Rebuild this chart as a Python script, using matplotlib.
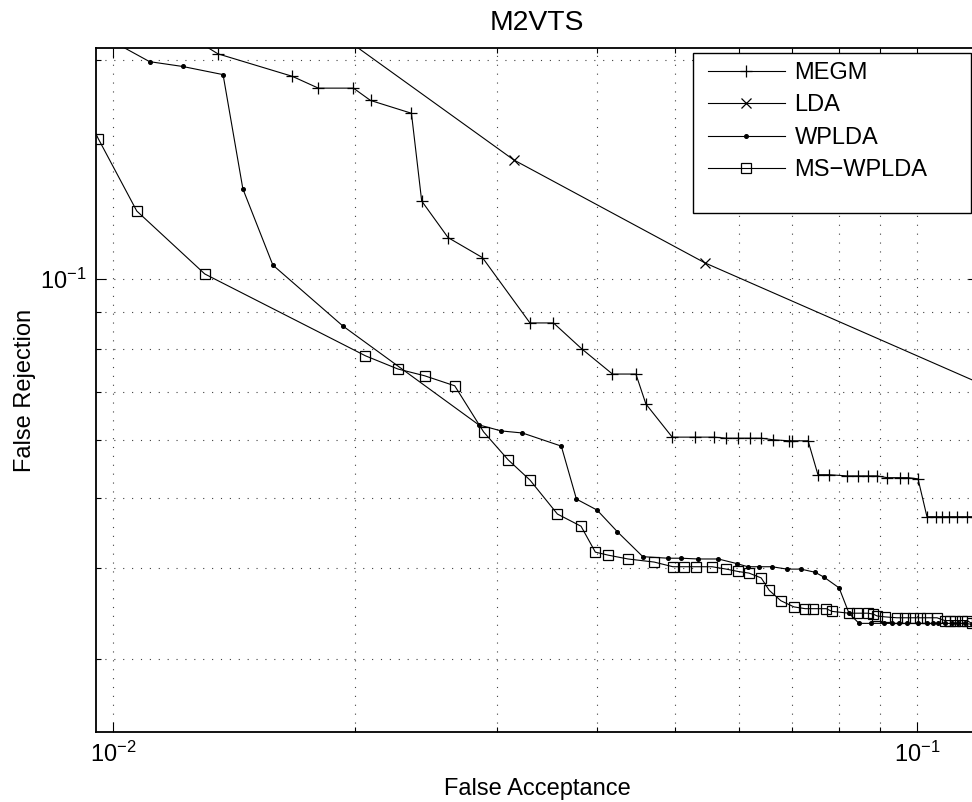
import matplotlib

matplotlib.use("Agg")
import matplotlib.pyplot as plt
from matplotlib.lines import Line2D
from matplotlib.patches import Rectangle
from matplotlib.ticker import LogLocator, NullFormatter

plt.rcParams.update({
    "font.family": ["Liberation Sans", "DejaVu Sans"],
    "font.size": 17,
    "mathtext.default": "regular",
})

# ROC points (false acceptance, false rejection)
megm_far = [0.0125, 0.0135, 0.0167, 0.0180, 0.0199, 0.0209, 0.0235, 0.0242,
            0.0261, 0.0288, 0.0330, 0.0353, 0.0383, 0.0418, 0.0447, 0.0460,
            0.0496, 0.0530, 0.0559, 0.0579, 0.0599, 0.0620, 0.0640, 0.0662,
            0.0693, 0.0699, 0.0732, 0.0753, 0.0777, 0.0818, 0.0845, 0.0869,
            0.0892, 0.0918, 0.0953, 0.0975, 0.1003, 0.1029, 0.1056, 0.1074,
            0.1096, 0.1121, 0.1154, 0.1185, 0.1215]
megm_frr = [0.215, 0.204, 0.190, 0.183, 0.183, 0.176, 0.169, 0.128,
            0.114, 0.107, 0.0870, 0.0870, 0.0801, 0.0740, 0.0740, 0.0673,
            0.0606, 0.0606, 0.0606, 0.0604, 0.0604, 0.0604, 0.0604, 0.0601,
            0.0599, 0.0599, 0.0599, 0.0538, 0.0538, 0.0536, 0.0536, 0.0536,
            0.0536, 0.0533, 0.0533, 0.0533, 0.0531, 0.0471, 0.0471, 0.0471,
            0.0471, 0.0471, 0.0471, 0.0471, 0.0471]

lda_far = [0.0171, 0.0315, 0.0545, 0.1268]
lda_frr = [0.237, 0.1458, 0.1052, 0.0699]

wplda_far = [0.00977, 0.0111, 0.0122, 0.0137, 0.0145, 0.0158, 0.0193, 0.0285,
             0.0304, 0.0323, 0.0361, 0.0377, 0.0400, 0.0424, 0.0456, 0.0490,
             0.0509, 0.0534, 0.0566, 0.0597, 0.0616, 0.0636, 0.0660, 0.0689,
             0.0717, 0.0747, 0.0766, 0.0800, 0.0823, 0.0847, 0.0877, 0.0910,
             0.0931, 0.0950, 0.0972, 0.1003, 0.1029, 0.1047, 0.1062, 0.1083,
             0.1105, 0.1124, 0.1147, 0.1170, 0.1215]
wplda_frr = [0.215, 0.199, 0.196, 0.191, 0.133, 0.1045, 0.0862, 0.0630,
             0.0618, 0.0614, 0.0589, 0.0498, 0.0481, 0.0449, 0.0415, 0.0413,
             0.0413, 0.0412, 0.0412, 0.0406, 0.0402, 0.0402, 0.0402, 0.0399,
             0.0399, 0.0395, 0.0389, 0.0376, 0.0347, 0.0336, 0.0336, 0.0336,
             0.0336, 0.0336, 0.0336, 0.0336, 0.0336, 0.0336, 0.0336, 0.0336,
             0.0336, 0.0336, 0.0336, 0.0335, 0.0335]

msw_far = [0.00923, 0.00958, 0.0107, 0.0130, 0.0206, 0.0226, 0.0244, 0.0266,
           0.0289, 0.0310, 0.0330, 0.0357, 0.0382, 0.0398, 0.0413, 0.0437,
           0.0471, 0.0497, 0.0513, 0.0531, 0.0556, 0.0579, 0.0599, 0.0618,
           0.0640, 0.0655, 0.0677, 0.0703, 0.0726, 0.0742, 0.0771, 0.0784,
           0.0823, 0.0842, 0.0869, 0.0882, 0.0892, 0.0912, 0.0944, 0.0966,
           0.0989, 0.1009, 0.1029, 0.1059, 0.1083, 0.1099, 0.1115, 0.1138,
           0.1154, 0.1170, 0.1215]
msw_frr = [0.170, 0.156, 0.124, 0.1016, 0.0784, 0.0752, 0.0736, 0.0713,
           0.0616, 0.0564, 0.0529, 0.0475, 0.0457, 0.0421, 0.0417, 0.0412,
           0.0408, 0.0402, 0.0402, 0.0402, 0.0402, 0.0399, 0.0396, 0.0394,
           0.0388, 0.0373, 0.0361, 0.0354, 0.0352, 0.0352, 0.0352, 0.0349,
           0.0347, 0.0347, 0.0347, 0.0346, 0.0344, 0.0343, 0.0342, 0.0342,
           0.0342, 0.0342, 0.0342, 0.0342, 0.0339, 0.0339, 0.0339, 0.0339,
           0.0339, 0.0336, 0.0336]

labels = ["MEGM", "LDA", "WPLDA", "MS\u2212WPLDA"]

fig = plt.figure(figsize=(9.72, 8.02), dpi=100)
# right edge of the axes sits just past the canvas, like the cropped original
ax = fig.add_axes([96 / 972, 70 / 802, 882 / 972, 684 / 802])

lw = 0.8
ax.plot(megm_far, megm_frr, color="k", lw=lw, marker="+", ms=9, mew=0.9)
ax.plot(lda_far, lda_frr, color="k", lw=lw, marker="x", ms=7, mew=0.9)
ax.plot(wplda_far, wplda_frr, color="k", lw=lw, marker="o", ms=2.6,
        mfc="k", mec="k")
ax.plot(msw_far, msw_frr, color="k", lw=lw, marker="s", ms=6.5,
        mfc="none", mec="k", mew=0.9)

ax.set_xscale("log")
ax.set_yscale("log")
ax.set_xlim(0.00952, 0.1191)
ax.set_ylim(0.02382, 0.2078)

for axis in (ax.xaxis, ax.yaxis):
    axis.set_major_locator(LogLocator(base=10))
    axis.set_minor_locator(LogLocator(base=10, subs=range(2, 10)))
    axis.set_minor_formatter(NullFormatter())

ax.grid(True, which="both", color="0.25", lw=0.8, ls=(0, (1, 7)))
ax.tick_params(which="both", direction="in", top=True, right=True, width=0.8)
ax.tick_params(which="major", length=7, pad=7)
ax.tick_params(which="minor", length=3.5)
for sp in ax.spines.values():
    sp.set_linewidth(1.3)

ax.set_title("M2VTS", pad=13)
ax.set_xlabel("False Acceptance", labelpad=8)
ax.set_ylabel("False Rejection", labelpad=3)

# legend box drawn as a plain rectangle so its width matches the original
bx0, bx1 = (693 - 96) / 882, (971 - 96) / 882
by0, by1 = (732 - 213) / 684, (732 - 53) / 684
ax.add_patch(Rectangle((bx0, by0), bx1 - bx0, by1 - by0, transform=ax.transAxes,
                       facecolor="white", edgecolor="k", lw=1.0, zorder=4))
handles = [
    Line2D([], [], color="k", lw=lw, marker="+", ms=9, mew=0.9),
    Line2D([], [], color="k", lw=lw, marker="x", ms=7, mew=0.9),
    Line2D([], [], color="k", lw=lw, marker="o", ms=2.6, mfc="k"),
    Line2D([], [], color="k", lw=lw, marker="s", ms=6.5, mfc="none", mew=0.9),
]
leg = ax.legend(handles, labels, loc="upper left", frameon=False,
                bbox_to_anchor=((708 - 96) / 882, (732 - 62) / 684),
                borderpad=0, borderaxespad=0, handlelength=3.26,
                handletextpad=0.4, labelspacing=0.44, numpoints=1)
leg.set_zorder(5)

fig.savefig("out.png", dpi=100)
